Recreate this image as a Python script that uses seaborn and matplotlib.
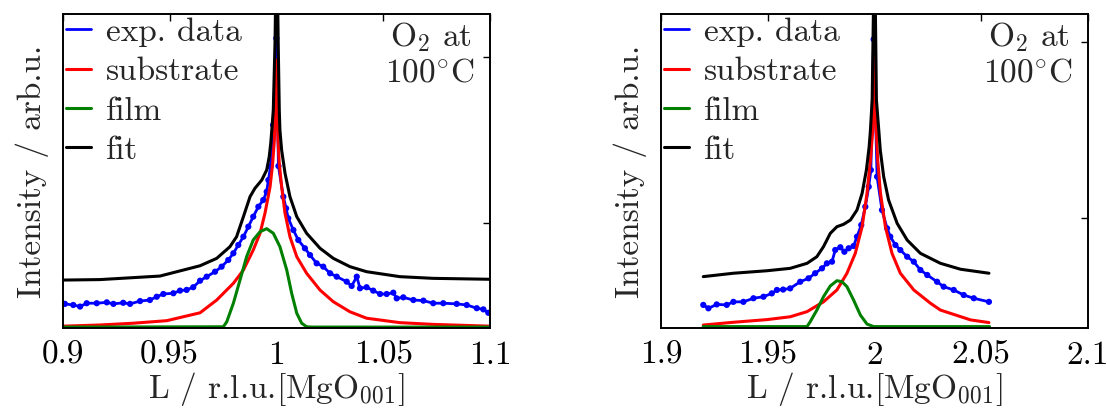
import seaborn as sns
import matplotlib.pyplot as plt
from matplotlib.ticker import FuncFormatter, NullLocator

sns.set_style('white')
plt.rcParams['font.family'] = ['cmr10', 'DejaVu Serif']
plt.rcParams['mathtext.fontset'] = 'cm'
plt.rcParams['axes.formatter.use_mathtext'] = True

# ---- left panel, L ~ 1 ----
L1_exp = [0.9009, 0.9048, 0.9080, 0.9111, 0.9158, 0.9205, 0.9236, 0.9282, 0.9314, 0.9361,
          0.9407, 0.9439, 0.9470, 0.9517, 0.9548, 0.9579, 0.9610, 0.9642, 0.9673, 0.9712,
          0.9743, 0.9774, 0.9798, 0.9821, 0.9845, 0.9868, 0.9891, 0.9915, 0.9938, 0.9954,
          0.9962, 0.9972, 0.9984, 0.9999, 1.0009, 1.0032, 1.0045, 1.0055, 1.0079, 1.0102,
          1.0133, 1.0157, 1.0188, 1.0219, 1.0251, 1.0282, 1.0329, 1.0352, 1.0376, 1.0391,
          1.0422, 1.0453, 1.0485, 1.0516, 1.0547, 1.0563, 1.0594, 1.0641, 1.0688, 1.0734,
          1.0781, 1.0844, 1.0891, 1.0938, 1.0969, 1.0992]
I1_exp = [327, 322, 315, 330, 330, 334, 327, 332, 327, 340,
          345, 361, 375, 379, 393, 397, 412, 451, 477, 511,
          548, 601, 660, 740, 830, 954, 1096, 1259, 1381, 1550,
          1823, 2193, 3910, 13020, 2214, 1446, 1231, 1072, 911, 793,
          707, 644, 574, 548, 500, 477, 445, 419, 477, 406,
          412, 393, 375, 375, 382, 353, 358, 345, 342, 330,
          330, 327, 322, 308, 303, 289]

L1_sub = [0.9000, 0.9173, 0.9329, 0.9486, 0.9642, 0.9720, 0.9798, 0.9845, 0.9891, 0.9923,
          0.9946, 0.9970, 0.9982, 0.9990, 0.9999, 1.0007, 1.0013, 1.0024, 1.0040, 1.0063,
          1.0095, 1.0141, 1.0204, 1.0266, 1.0344, 1.0422, 1.0578, 1.0734, 1.1000]
I1_sub = [240, 244, 250, 259, 289, 345, 435, 523, 690, 871,
          1149, 1662, 2298, 3176, 9632, 3176, 2298, 1662, 1149, 830,
          629, 500, 396, 337, 293, 268, 252, 246, 240]

L1_film = [0.9000, 0.9751, 0.9767, 0.9798, 0.9829, 0.9860, 0.9891, 0.9923, 0.9954, 0.9985,
           1.0016, 1.0048, 1.0071, 1.0095, 1.0118, 1.0141, 1.0166, 1.1000]
I1_film = [237, 238, 255, 330, 455, 629, 793, 890, 928, 871,
           723, 523, 379, 287, 250, 238, 237, 237]

L1_fit = [0.9000, 0.9173, 0.9454, 0.9642, 0.9720, 0.9782, 0.9813, 0.9845, 0.9876, 0.9899,
          0.9931, 0.9954, 0.9966, 0.9973, 0.9978, 0.9985, 0.9993, 1.0001, 1.0008, 1.0013,
          1.0016, 1.0024, 1.0040, 1.0063, 1.0095, 1.0141, 1.0204, 1.0266, 1.0344, 1.0422,
          1.0578, 1.0733, 1.1000]
I1_fit = [455, 458, 481, 555, 615, 723, 830, 1096, 1446, 1625,
          1823, 2094, 2519, 3034, 3648, 4815, 12190, 60000, 12190, 4815,
          3648, 2764, 2000, 1446, 1096, 871, 707, 615, 548, 511,
          477, 466, 460]

# ---- right panel, L ~ 2 ----
L2_exp = [1.9198, 1.9222, 1.9261, 1.9308, 1.9339, 1.9386, 1.9433, 1.9480, 1.9519, 1.9543,
          1.9572, 1.9605, 1.9652, 1.9691, 1.9722, 1.9754, 1.9777, 1.9801, 1.9816, 1.9840,
          1.9859, 1.9879, 1.9902, 1.9918, 1.9938, 1.9957, 1.9973, 1.9983, 1.9996, 2.0012,
          2.0035, 2.0059, 2.0074, 2.0098, 2.0121, 2.0153, 2.0184, 2.0215, 2.0247, 2.0293,
          2.0324, 2.0371, 2.0418, 2.0465, 2.0536]
I2_exp = [319, 305, 321, 319, 332, 332, 348, 355, 371, 388,
          390, 396, 432, 452, 483, 515, 550, 562, 655, 679,
          640, 670, 690, 780, 909, 1155, 1501, 1868, 10360, 1712,
          1106, 870, 780, 699, 655, 600, 562, 504, 472, 432,
          405, 388, 363, 348, 332]

L2_sub = [1.9198, 1.9339, 1.9496, 1.9605, 1.9684, 1.9761, 1.9824, 1.9871, 1.9910, 1.9942,
          1.9965, 1.9981, 1.9992, 2.0000, 2.0008, 2.0015, 2.0028, 2.0051, 2.0082, 2.0121,
          2.0184, 2.0262, 2.0309, 2.0450, 2.0536]
I2_sub = [245, 254, 263, 273, 292, 332, 388, 483, 627, 889,
          1377, 2130, 3156, 9005, 3156, 2130, 1377, 889, 627, 483,
          388, 326, 298, 262, 253]

L2_film = [1.9198, 1.9684, 1.9699, 1.9730, 1.9761, 1.9793, 1.9824, 1.9848, 1.9871, 1.9902,
           1.9934, 1.9965, 1.9996, 2.0539]
I2_film = [240, 240, 256, 298, 355, 409, 438, 432, 405, 340,
           279, 248, 240, 240]

L2_fit = [1.9198, 1.9339, 1.9496, 1.9605, 1.9684, 1.9730, 1.9761, 1.9793, 1.9824, 1.9855,
          1.9887, 1.9918, 1.9942, 1.9962, 1.9975, 1.9981, 1.9989, 2.0000, 2.0009, 2.0020,
          2.0027, 2.0043, 2.0066, 2.0106, 2.0153, 2.0215, 2.0309, 2.0403, 2.0536]
I2_fit = [462, 483, 499, 515, 550, 600, 684, 815, 889, 917,
          970, 1106, 1377, 1868, 2536, 3156, 4677, 40000, 4677, 3156,
          2428, 1712, 1261, 929, 746, 627, 550, 509, 483]

panels = [
    (L1_exp, I1_exp, L1_sub, I1_sub, L1_film, I1_film, L1_fit, I1_fit,
     (0.9, 1.1), [0.9, 0.95, 1.0, 1.05, 1.1], (233, 18236)),
    (L2_exp, I2_exp, L2_sub, I2_sub, L2_film, I2_film, L2_fit, I2_fit,
     (1.9, 2.1), [1.9, 1.95, 2.0, 2.05, 2.1], (234.7, 14435)),
]
lefts = [63 / 1107, 661 / 1107]

fig = plt.figure(figsize=(11.07, 4.11), dpi=100)
fs = 24

for left, p in zip(lefts, panels):
    Le, Ie, Ls, Is, Lf, If, Lt, It, xl, xt, yl = p
    ax = fig.add_axes([left, 0.2012, 427 / 1107, 0.7647])
    ax.set_yscale('log')

    sns.lineplot(x=Le, y=Ie, ax=ax, color='blue', lw=2, sort=False, estimator=None,
                 label='exp. data')
    sns.scatterplot(x=Le, y=Ie, ax=ax, color='blue', s=20, edgecolor='none', legend=False)
    sns.lineplot(x=Ls, y=Is, ax=ax, color='red', lw=2.2, sort=False, estimator=None,
                 label='substrate')
    sns.lineplot(x=Lf, y=If, ax=ax, color='green', lw=2.2, sort=False, estimator=None,
                 label='film')
    sns.lineplot(x=Lt, y=It, ax=ax, color='black', lw=2.2, sort=False, estimator=None,
                 label='fit')

    ax.set_xlim(*xl)
    ax.set_ylim(*yl)
    ax.set_xticks(xt)
    ax.xaxis.set_major_formatter(FuncFormatter(lambda v, pos: '%g' % v))
    ax.yaxis.set_minor_locator(NullLocator())
    ax.tick_params(direction='in', length=5, width=1, top=True, right=True,
                   labelsize=fs, pad=9, colors='black')
    ax.tick_params(axis='y', which='both', labelleft=False)
    for s in ax.spines.values():
        s.set_linewidth(1.4)
        s.set_color('black')

    ax.set_xlabel(r'L / r.l.u.$[\mathrm{MgO}_{001}]$', fontsize=fs, labelpad=0)
    ax.set_ylabel('Intensity / arb.u.', fontsize=fs, labelpad=10)
    ax.text(0.765, 0.98, 'O$_2$ at', transform=ax.transAxes,
            ha='left', va='top', fontsize=fs)
    ax.text(0.755, 0.86, r'$100^{\circ}\mathrm{C}$', transform=ax.transAxes,
            ha='left', va='top', fontsize=fs)
    ax.legend(loc='upper left', frameon=False, fontsize=fs, handlelength=0.75,
              handletextpad=0.45, labelspacing=0.3, borderaxespad=0.0,
              borderpad=0.1)

fig.savefig('out.png', dpi=100)
